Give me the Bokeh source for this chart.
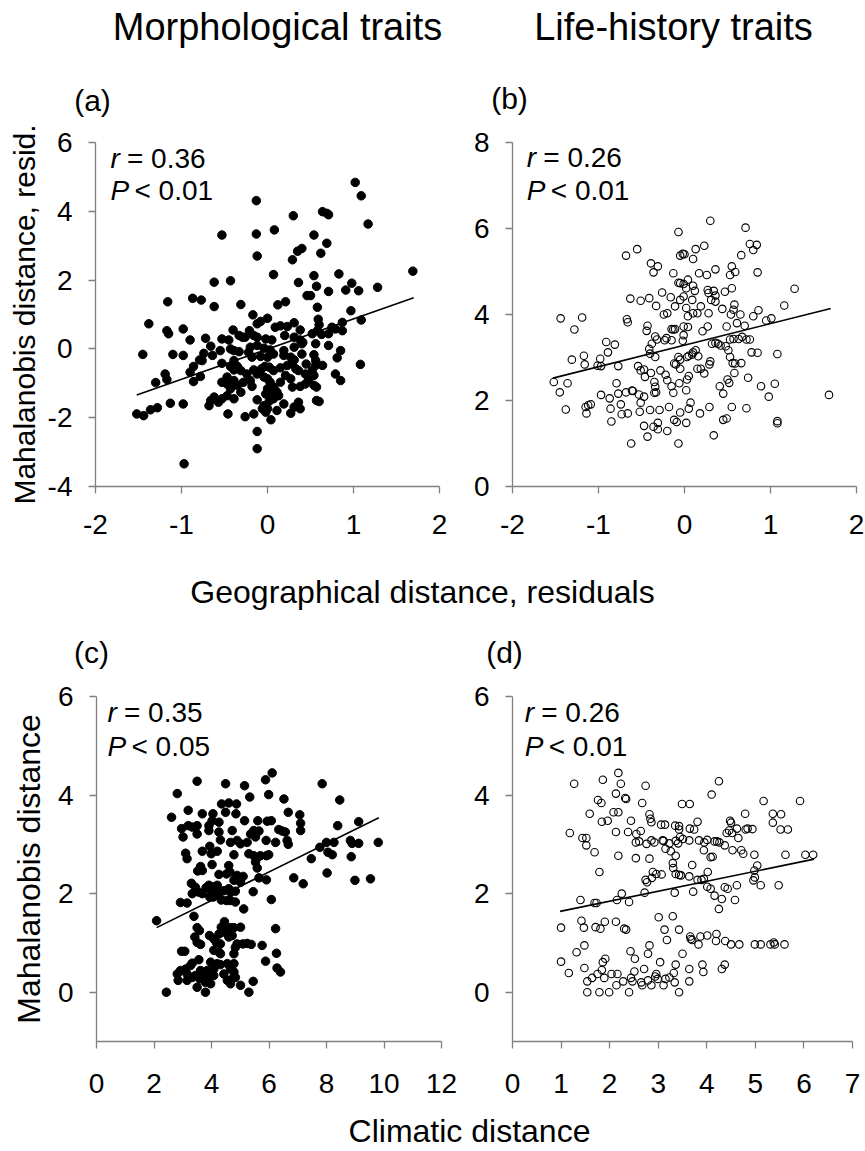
from bokeh.plotting import figure
from bokeh.models import Label, FixedTicker, Range1d
from bokeh.layouts import column, row
from bokeh.embed import file_html
from bokeh.resources import INLINE

# ---------------- data ----------------
# (a) morphological traits vs geographical distance residuals
a_x = [1.02,1.09,1.17,-0.13,0.30,0.64,0.69,0.71,-0.13,0.08,
       -0.53,0.54,0.69,0.62,-0.12,0.40,0.35,0.29,1.69,0.07,
       0.54,0.83,-0.62,-0.43,0.36,0.98,1.28,0.57,0.46,0.50,
       0.71,1.06,0.91,-1.16,-0.87,-0.77,-0.31,0.21,0.12,-0.62,
       0.58,0.97,-1.38,-0.17,0.00,0.59,0.87,1.09,-0.12,-0.08,
       0.09,0.15,0.23,0.31,0.38,0.60,0.58,0.75,0.79,0.87,
       0.71,0.63,-1.17,-1.15,-0.98,-0.40,-0.21,-0.16,-0.33,-0.29,
       -0.26,-0.12,-0.02,0.05,-0.72,-0.53,-0.45,-0.90,0.20,0.31,
       0.38,0.41,0.52,0.56,0.71,-0.66,-0.55,-0.43,-0.39,-0.33,
       -0.20,-0.12,-0.04,0.03,0.19,0.31,0.40,0.85,-1.45,-1.10,
       -0.98,-0.74,-0.64,-0.76,-0.86,-0.79,-0.53,-0.39,-0.22,-0.18,
       -0.08,0.00,0.07,0.19,0.27,0.31,0.40,0.45,0.54,0.56,
       0.56,0.81,1.08,-0.90,-0.86,-0.78,-1.19,-1.17,-1.30,-0.43,
       -0.39,-0.35,-0.31,-0.24,-0.16,-0.12,-0.07,-0.03,0.02,0.07,
       0.15,0.23,0.29,0.33,0.36,0.44,0.52,0.64,0.79,0.85,
       0.54,-0.47,-0.53,-0.47,-0.43,-0.39,-0.35,-0.31,-0.28,-0.20,
       -0.18,-0.04,0.00,0.03,0.07,0.00,0.09,0.15,0.21,0.27,
       0.29,0.38,0.44,0.48,0.54,0.57,-0.62,-0.66,-0.68,-0.57,
       -0.53,-0.47,-0.39,-0.12,-0.02,0.03,0.02,0.07,0.13,0.11,
       0.19,0.31,0.36,0.38,0.60,0.57,-0.04,0.00,-0.06,0.11,
       0.27,-0.02,-1.52,-1.44,-1.36,-1.28,-1.13,-0.98,-0.46,-0.26,
       -0.16,0.04,-0.12,-0.12,-0.97]
a_y = [4.84,4.45,3.63,4.31,3.87,3.99,3.94,3.90,3.34,3.46,
       3.31,3.31,3.07,2.78,2.70,2.92,2.84,2.59,2.26,2.16,
       2.13,2.18,1.94,1.98,1.93,1.91,1.79,1.82,1.55,1.55,
       1.67,1.69,1.71,1.37,1.47,1.42,1.29,1.37,1.28,1.23,
       1.21,1.11,0.73,0.99,0.89,0.86,0.77,0.84,0.73,0.80,
       0.63,0.67,0.65,0.76,0.55,0.70,0.53,0.63,0.58,0.53,
       0.44,0.42,0.53,0.44,0.58,0.55,0.53,0.39,0.39,0.34,
       0.34,0.34,0.29,0.26,0.31,0.29,0.26,0.26,0.39,0.34,
       0.26,0.19,0.44,0.15,0.10,0.08,-0.05,0.00,-0.05,-0.08,
       0.05,0.10,0.02,-0.03,-0.05,0.05,0.15,-0.05,-0.16,-0.16,
       -0.19,-0.13,-0.19,-0.34,-0.51,-0.32,-0.42,-0.34,-0.10,-0.24,
       -0.22,-0.24,-0.15,-0.19,-0.24,-0.32,-0.15,-0.44,-0.17,-0.34,
       -0.48,-0.26,-0.45,-0.68,-0.95,-0.80,-0.73,-0.89,-0.98,-0.51,
       -0.61,-0.51,-0.63,-0.73,-0.61,-0.73,-0.58,-0.51,-0.53,-0.63,
       -0.55,-0.48,-0.44,-0.58,-0.63,-0.73,-0.63,-0.48,-0.73,-0.92,
       -0.77,-0.82,-0.97,-1.02,-1.16,-0.92,-1.06,-1.26,-0.97,-0.92,
       -1.09,-0.82,-0.87,-0.97,-1.11,-1.16,-1.21,-0.97,-0.77,-0.87,
       -1.11,-1.09,-1.02,-0.90,-1.06,-1.11,-1.40,-1.50,-1.65,-1.55,
       -1.45,-1.36,-1.45,-1.48,-1.31,-1.36,-1.52,-1.45,-1.36,-1.26,
       -1.60,-1.69,-1.55,-1.74,-1.53,-1.50,-1.65,-1.74,-1.74,-1.79,
       -1.87,-1.84,-1.89,-1.94,-1.77,-1.71,-1.58,-1.60,-1.89,-1.97,
       -1.89,-2.06,-2.40,-2.90,-3.34]

# (b) life-history traits vs geographical distance residuals
b_x = [0.30,0.71,-0.07,0.76,0.84,0.80,-0.55,-0.68,-0.02,0.00,
       -0.05,0.13,0.23,0.10,-0.39,-0.36,-0.31,0.55,0.59,0.53,
       0.17,0.26,0.36,0.85,0.66,-0.13,-0.63,-0.51,-0.41,-0.26,
       -0.16,-0.07,-0.05,-0.01,0.04,0.02,0.10,0.12,0.27,0.28,
       0.34,0.36,0.47,0.55,0.58,0.57,0.65,0.54,0.44,0.36,
       0.31,0.19,0.15,0.10,0.04,0.02,-0.01,0.09,-0.05,-0.11,
       0.80,0.86,0.95,1.01,1.16,1.28,-0.33,-0.20,-0.24,-0.15,
       -0.13,-0.11,0.04,-0.01,0.21,0.27,0.28,-0.43,-0.44,-0.34,
       -0.32,-0.38,-0.41,-0.40,-0.34,-0.23,-0.21,0.49,0.61,0.70,
       0.63,0.67,0.72,0.76,0.57,0.53,0.78,0.85,1.08,-0.01,
       -0.02,-0.15,-0.67,-0.66,-1.19,-1.44,-1.28,-1.31,-1.17,-1.16,
       -0.98,-1.01,-0.97,-0.91,-0.89,-0.81,-0.77,-0.68,-0.61,-0.54,
       -0.51,-0.46,-0.47,-0.39,-0.35,-0.34,-0.33,-0.28,-0.22,-0.20,
       -0.15,-0.13,-0.12,-0.10,-0.05,-0.05,-0.07,0.03,0.05,0.09,
       0.13,0.16,0.10,0.15,0.19,0.23,0.30,0.29,0.32,0.36,
       0.39,0.42,0.48,0.51,0.53,0.56,0.59,0.66,0.58,0.52,
       0.50,0.41,0.45,0.05,0.03,0.02,-0.06,-1.52,-1.45,-1.36,
       -1.38,-1.15,-1.14,-1.09,-1.12,-0.97,-0.87,-0.86,-0.79,-0.77,
       -0.74,-0.85,-0.73,-0.66,-0.62,-0.60,-0.53,-0.51,-0.47,-0.52,
       -0.40,-0.35,-0.47,-0.43,-0.36,-0.31,-0.31,-0.29,-0.20,-0.18,
       -0.12,-0.09,-0.05,-0.07,0.02,0.05,0.07,0.18,0.29,0.34,
       0.45,0.49,0.55,0.72,0.74,0.89,0.98,1.05,1.08,1.08,
       1.68]
b_y = [6.18,6.02,5.92,5.64,5.62,5.50,5.52,5.37,5.41,5.40,
       5.37,5.52,5.60,5.29,5.19,4.98,5.12,5.12,4.99,4.92,
       4.96,4.92,5.05,4.98,5.38,4.96,4.37,4.32,4.38,4.51,
       4.40,4.74,4.73,4.71,4.81,4.61,4.67,4.55,4.57,4.50,
       4.55,4.44,4.53,4.61,4.23,4.11,4.00,4.00,4.13,4.30,
       4.34,4.19,4.03,4.03,3.96,4.15,4.42,4.34,4.34,4.19,
       3.96,4.10,3.86,3.91,4.21,4.60,4.20,4.03,4.00,3.66,
       3.65,3.66,3.71,3.72,3.61,3.72,4.03,3.74,3.62,3.49,
       3.42,3.32,3.20,3.09,3.01,3.40,3.45,3.72,3.80,3.74,
       3.43,3.48,3.42,3.42,3.43,3.42,3.12,3.11,3.08,3.52,
       3.39,3.40,3.89,3.82,3.93,3.91,3.65,2.95,3.04,2.84,
       2.97,2.81,2.80,3.36,3.12,3.30,2.80,2.19,2.23,2.80,
       2.70,2.55,2.72,2.64,2.43,2.32,2.19,2.70,2.60,2.47,
       2.33,2.18,2.86,2.84,2.74,2.95,3.01,3.01,3.04,3.07,
       3.17,3.03,3.12,2.74,2.74,2.63,2.91,2.84,3.32,3.34,
       3.32,3.28,3.26,3.17,3.01,2.87,2.86,2.87,2.64,2.41,
       2.49,2.33,2.16,2.57,2.49,2.24,2.40,2.43,2.19,2.40,
       1.79,1.85,1.70,1.91,1.89,2.13,2.05,1.81,2.40,2.16,
       1.91,1.51,1.68,1.70,1.00,2.22,2.14,1.95,2.09,1.74,
       1.78,2.18,1.41,1.16,1.39,1.48,1.33,1.78,1.29,1.85,
       1.55,1.50,1.72,1.00,1.48,1.81,1.95,1.70,1.85,1.19,
       1.55,1.58,1.85,1.82,2.53,2.33,2.09,2.39,1.52,1.47,
       2.13]

# (c) morphological traits vs climatic distance
c_x = [6.11,5.88,3.50,4.49,5.15,7.85,2.81,5.33,5.99,6.52,
       8.46,2.61,3.19,3.68,4.05,4.35,4.60,4.87,4.49,4.85,
       4.02,3.91,4.26,4.72,5.15,5.61,5.94,6.08,6.67,7.07,
       7.10,7.10,8.39,9.12,2.96,3.01,3.19,3.33,3.50,3.50,
       3.91,4.26,4.31,4.66,4.89,5.01,5.24,5.36,5.47,5.65,
       5.53,6.34,6.46,6.57,6.63,6.67,6.23,5.90,8.00,8.26,
       8.83,8.89,9.12,9.80,7.77,8.05,8.20,8.86,7.47,3.68,
       3.94,3.99,4.20,3.10,3.15,4.78,5.30,5.47,5.57,5.70,
       5.91,5.99,5.53,5.59,3.62,3.52,3.68,4.02,4.60,4.64,
       4.26,4.52,4.89,5.01,5.10,4.78,5.01,5.65,5.91,6.86,
       7.19,8.02,8.99,9.53,3.30,3.44,3.56,3.33,3.68,3.81,
       3.91,4.08,4.20,3.99,3.94,4.06,4.23,4.43,4.34,4.60,
       4.66,4.83,4.52,4.66,4.83,5.45,6.08,5.12,2.92,3.15,
       3.39,2.09,3.50,3.58,3.42,3.50,3.62,3.93,4.08,4.17,
       4.31,4.26,4.43,4.45,4.34,4.55,4.66,4.78,5.01,4.72,
       4.89,4.83,4.78,4.26,4.31,4.08,4.60,5.09,5.24,5.38,
       5.76,6.23,6.26,2.96,3.07,3.97,3.33,3.56,3.27,3.10,
       2.92,2.81,2.84,3.15,3.33,3.44,3.59,3.73,3.85,3.79,
       3.97,4.08,4.20,4.31,4.55,4.66,4.78,4.83,4.66,5.01,
       4.43,4.55,4.72,3.50,3.79,5.30,5.45,2.43,5.88,6.28,
       6.40,3.15,3.62,4.08,4.78,3.91]
c_y = [4.45,4.31,4.28,4.23,4.19,4.23,4.03,3.96,4.01,3.92,
       3.90,3.55,3.69,3.62,3.62,3.82,3.84,3.82,3.65,3.62,
       3.48,3.38,3.45,3.28,3.48,3.48,3.47,3.48,3.65,3.60,
       3.43,3.28,3.38,3.46,3.32,3.15,3.38,3.35,3.38,3.21,
       3.28,3.25,3.09,3.04,3.08,3.01,3.04,3.21,3.28,3.27,
       3.15,3.30,3.27,3.25,3.08,3.00,3.04,3.08,3.04,3.04,
       3.08,3.02,3.02,3.04,2.94,2.84,2.79,2.75,2.71,2.86,
       2.96,2.81,2.86,2.82,2.71,2.79,2.81,2.77,2.71,2.77,
       2.77,2.79,2.64,2.52,2.55,2.46,2.47,2.59,2.57,2.44,
       2.39,2.40,2.37,2.32,2.35,2.27,2.23,2.32,2.28,2.32,
       2.20,2.42,2.27,2.30,2.21,2.13,2.03,2.00,2.00,2.12,
       2.17,2.14,2.17,2.06,1.93,1.93,2.02,2.06,1.87,2.10,
       2.03,2.05,1.86,1.86,1.83,2.04,1.88,1.69,1.82,1.81,
       1.54,1.45,1.31,1.25,1.12,1.01,0.97,1.15,1.08,1.01,
       0.98,1.18,1.22,1.43,1.32,1.25,1.31,1.31,1.32,1.15,
       0.98,0.91,0.78,0.81,0.78,0.85,1.12,0.98,0.99,0.97,
       0.95,1.29,0.79,0.83,0.83,0.61,0.59,0.66,0.54,0.47,
       0.44,0.37,0.24,0.37,0.30,0.34,0.27,0.37,0.44,0.20,
       0.17,0.34,0.58,0.56,0.58,0.47,0.41,0.30,0.17,0.14,
       0.37,0.24,0.27,0.10,0.00,0.00,0.22,0.00,0.63,0.49,
       0.41,0.24,0.44,0.47,0.58,0.30]

# (d) life-history traits vs climatic distance
d_x = [2.18,1.86,4.25,1.27,2.23,2.74,2.32,2.34,4.10,2.13,
       1.76,1.83,2.67,3.49,3.65,5.17,5.92,1.59,2.08,2.18,
       1.84,1.96,2.44,2.82,2.84,2.86,3.81,4.79,5.36,5.53,
       5.36,3.06,3.14,3.35,3.43,3.43,3.65,3.74,4.48,4.50,
       4.62,4.80,4.84,4.94,5.52,5.67,1.18,2.38,2.13,2.55,
       2.54,2.61,2.64,2.76,2.86,2.92,3.09,3.11,3.23,3.36,
       3.41,3.45,3.51,3.64,3.84,3.95,4.01,4.16,4.21,4.26,
       4.37,4.41,4.46,4.52,4.65,1.44,1.52,1.52,1.69,2.18,
       2.54,2.82,3.15,3.26,3.36,3.94,4.08,4.12,4.53,4.71,
       4.75,4.98,5.62,6.03,6.19,1.79,3.30,3.31,3.36,3.43,
       3.47,3.64,3.70,3.81,3.89,3.94,4.02,4.01,2.89,2.96,
       3.07,2.77,2.74,2.72,2.87,4.98,5.04,4.96,4.99,5.11,
       5.48,4.62,4.37,4.43,4.08,4.16,4.31,4.25,4.58,3.34,
       3.72,1.40,1.69,1.73,2.15,2.25,2.40,1.42,1.47,1.71,
       1.81,1.90,2.13,2.30,2.34,3.01,3.30,3.13,3.18,3.43,
       3.66,3.70,3.83,3.87,4.01,4.20,4.19,4.38,4.50,4.67,
       4.99,5.11,5.31,5.38,5.40,5.60,3.67,1.00,1.48,1.32,
       2.82,2.79,3.50,1.00,1.16,1.48,1.86,1.91,1.84,1.89,
       2.43,2.52,2.44,2.51,2.71,2.96,3.04,3.36,3.64,3.91,
       3.93,4.37,4.31,1.54,1.64,1.75,2.04,2.16,2.28,2.47,
       2.65,2.79,2.94,2.99,3.15,3.23,3.32,3.34,3.64,1.54,
       1.79,1.99,2.14,2.40,2.67,2.86,3.11,3.43]
d_y = [4.45,4.31,4.28,4.23,4.23,4.19,3.94,3.92,4.01,4.03,
       3.90,3.84,3.84,3.82,3.82,3.88,3.88,3.62,3.65,3.65,
       3.46,3.48,3.48,3.61,3.52,3.45,3.46,3.62,3.62,3.61,
       3.44,3.40,3.40,3.38,3.37,3.30,3.32,3.30,3.48,3.44,
       3.32,3.30,3.32,3.31,3.30,3.30,3.23,3.25,3.25,3.21,
       3.04,3.06,3.27,3.01,3.08,3.04,3.08,3.07,3.02,3.07,
       3.02,3.15,3.11,3.08,3.08,3.04,3.09,3.06,3.06,3.04,
       2.98,3.23,3.28,3.23,3.13,3.13,3.13,2.98,2.84,2.77,
       2.72,2.71,2.91,2.86,2.77,2.88,2.74,2.75,2.88,2.88,
       2.81,2.79,2.79,2.79,2.79,2.44,2.62,2.52,2.40,2.38,
       2.37,2.35,2.58,2.28,2.28,2.30,2.44,2.14,2.44,2.40,
       2.39,2.23,2.28,2.02,2.32,2.47,2.57,2.27,2.33,2.17,
       2.17,2.17,2.13,2.10,2.10,1.96,1.89,1.69,1.87,2.02,
       2.04,1.87,1.81,1.81,1.87,2.00,1.83,1.45,1.31,1.32,
       1.29,1.43,1.43,1.29,1.27,1.52,1.54,1.27,1.06,1.27,
       1.13,1.06,0.97,1.13,1.15,1.18,1.04,1.04,0.97,0.97,
       0.97,0.97,0.97,1.01,0.97,0.97,1.08,1.31,0.95,0.81,
       0.95,0.78,0.78,0.62,0.39,0.49,0.61,0.68,0.45,0.29,
       0.83,0.68,0.29,0.42,0.47,0.37,0.61,0.56,0.47,0.56,
       0.41,0.56,0.47,0.22,0.29,0.37,0.37,0.37,0.22,0.22,
       0.20,0.24,0.32,0.27,0.27,0.30,0.39,0.20,0.22,0.00,
       0.00,0.00,0.14,0.00,0.14,0.14,0.14,0.00]

# fitted regression lines (end points)
fit_a_x = [-1.52, 1.70]; fit_a_y = [-1.34, 1.49]
fit_b_x = [-1.53, 1.70]; fit_b_y = [2.52, 4.14]
fit_c_x = [2.09, 9.82];  fit_c_y = [1.31, 3.54]
fit_d_x = [0.98, 6.21];  fit_d_y = [1.64, 2.70]

# statistics and texts
stats_r = ["0.36", "0.26", "0.35", "0.26"]
stats_p = ["0.01", "0.01", "0.05", "0.01"]
panel_tags = ["(a)", "(b)", "(c)", "(d)"]
column_titles = ["Morphological traits", "Life-history traits"]
ylabel_top = "Mahalanobis distance, resid."
ylabel_bottom = "Mahalanobis distance"
xlabel_top = "Geographical distance, residuals"
xlabel_bottom = "Climatic distance"

# ticks
geo_xticks = [-2, -1, 0, 1, 2]
a_yticks = [-4, -2, 0, 2, 4, 6]
b_yticks = [0, 2, 4, 6, 8]
c_xticks = [0, 2, 4, 6, 8, 10, 12]
d_xticks = [0, 1, 2, 3, 4, 5, 6, 7]
cd_yticks = [0, 2, 4, 6]

# ---------------- styling ----------------
FONT = "Liberation Sans"
AXC = "#808080"
TICK_FS = "28px"


def strip(w, h):
    s = figure(width=w, height=h, x_range=Range1d(0, w), y_range=Range1d(0, h),
               x_axis_type=None, y_axis_type=None, output_backend="svg",
               toolbar_location=None, min_border=0, title=None)
    s.grid.visible = False
    s.outline_line_color = None
    return s


def txt(p, x, y, t, size_px, align="center", style="normal", xoff=0):
    # y is the wanted baseline; a small upward offset compensates the label box
    p.add_layout(Label(x=x, y=y, text=t, text_font=FONT, text_font_size=f"{size_px}px",
                       text_align=align, text_baseline="alphabetic", text_color="black",
                       text_font_style=style, x_offset=xoff, y_offset=0.37 * size_px))


def tick_labels(ticks):
    return {t: ("-" + str(abs(t)) if t < 0 else str(t)) for t in ticks}


def panel(w, h, bl, br, bt, bb, xr, yr, xt, yt, ylabel=None, ylabel_fs=32, xstand=21, ylab_stand=2):
    p = figure(width=w, height=h, x_range=Range1d(*xr), y_range=Range1d(*yr),
               output_backend="svg", toolbar_location=None, title=None,
               min_border_left=bl, min_border_right=br, min_border_top=bt, min_border_bottom=bb)
    p.grid.visible = False
    p.outline_line_color = None
    for ax, ticks in ((p.xaxis[0], xt), (p.yaxis[0], yt)):
        ax.ticker = FixedTicker(ticks=ticks)
        ax.major_label_overrides = tick_labels(ticks)
        ax.axis_line_color = AXC
        ax.axis_line_width = 1.3
        ax.major_tick_line_color = AXC
        ax.major_tick_line_width = 1.3
        ax.minor_tick_line_color = None
        ax.major_tick_out = 7
        ax.major_tick_in = 0
        ax.major_label_text_font = FONT
        ax.major_label_text_font_size = TICK_FS
        ax.major_label_text_color = "black"
    p.xaxis[0].major_label_standoff = xstand
    p.yaxis[0].major_label_standoff = 16
    if ylabel:
        p.yaxis[0].axis_label = ylabel
        p.yaxis[0].axis_label_text_font = FONT
        p.yaxis[0].axis_label_text_font_size = f"{ylabel_fs}px"
        p.yaxis[0].axis_label_text_font_style = "normal"
        p.yaxis[0].axis_label_text_color = "black"
        p.yaxis[0].axis_label_standoff = ylab_stand
    return p


def stats(p, x, y1, y2, r, pv):
    txt(p, x, y1, "r", 28, align="left", style="italic")
    txt(p, x, y1, "= " + r, 28, align="left", xoff=16.5)
    txt(p, x, y2, "P", 28, align="left", style="italic")
    txt(p, x, y2, "< " + pv, 28, align="left", xoff=24)


# ---------------- panels ----------------
pa = panel(470, 430, 95, 31, 22, 64, (-2, 2), (-4, 6), geo_xticks, a_yticks,
           ylabel=ylabel_top, ylabel_fs=30, ylab_stand=4)
pa.scatter(a_x, a_y, size=8.5, color="black", marker="circle")
pa.line(fit_a_x, fit_a_y, color="black", line_width=1.6)
stats(pa, -1.826, 5.245, 4.29, stats_r[0], stats_p[0])

pb = panel(395, 430, 41, 9, 22, 64, (-2, 2), (0, 8), geo_xticks, b_yticks)
pb.scatter(b_x, b_y, size=7.5, fill_color=None, line_color="black", line_width=1.1, marker="circle")
pb.line(fit_b_x, fit_b_y, color="black", line_width=1.6)
stats(pb, -1.834, 7.40, 6.64, stats_r[1], stats_p[1])

pc = panel(470, 420, 96, 29, 16, 59, (0, 12), (-1, 6), c_xticks, cd_yticks,
           ylabel=ylabel_bottom, ylabel_fs=32, xstand=25, ylab_stand=8)
pc.scatter(c_x, c_y, size=8.5, color="black", marker="circle")
pc.line(fit_c_x, fit_c_y, color="black", line_width=1.6)
stats(pc, 0.38, 5.47, 4.78, stats_r[2], stats_p[2])

pd_ = panel(395, 420, 38, 13, 16, 59, (0, 7), (-1, 6), d_xticks, cd_yticks, xstand=25)
pd_.scatter(d_x, d_y, size=7.5, fill_color=None, line_color="black", line_width=1.1, marker="circle")
pd_.line(fit_d_x, fit_d_y, color="black", line_width=1.6)
stats(pd_, 0.25, 5.47, 4.78, stats_r[3], stats_p[3])

# ---------------- text strips ----------------
top = strip(865, 120)
txt(top, 277, 79, column_titles[0], 38)
txt(top, 673, 79, column_titles[1], 38)
txt(top, 92, 9, panel_tags[0], 30)
txt(top, 509, 11, panel_tags[1], 30)

mid = strip(865, 130)
txt(mid, 422, 77, xlabel_top, 32)
txt(mid, 91, 17, panel_tags[2], 30)
txt(mid, 504, 17, panel_tags[3], 30)

bot = strip(865, 51)
txt(bot, 469, 9, xlabel_bottom, 32)

layout = column(top, row(pa, pb), mid, row(pc, pd_), bot)

open("out.html", "w").write(file_html(layout, INLINE))
